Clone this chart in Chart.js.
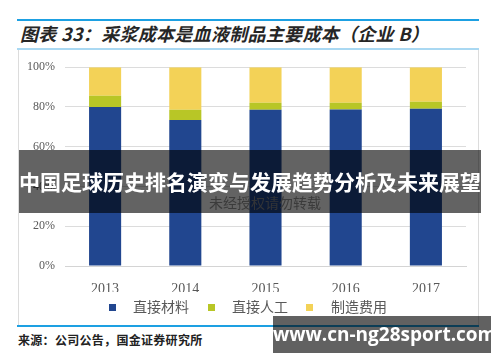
<!DOCTYPE html>
<html>
<head>
<meta charset="utf-8">
<script src="https://cdn.jsdelivr.net/npm/chart.js@4"></script>
<style>
  html, body { margin: 0; padding: 0; background: #fff; }
  body { width: 500px; height: 362px; position: relative; overflow: hidden; font-family: "Noto Sans CJK SC", sans-serif; }
  .abs { position: absolute; }
  #title { left: 20px; top: 21px; font-size: 18px; line-height: 24px; font-style: italic; font-weight: bold; color: #262626; white-space: nowrap; letter-spacing: 0.3px; }
  #frame { left: 18px; top: 50px; width: 459px; height: 275px; border-left: 1px solid #dcdcdc; border-right: 1px solid #dcdcdc; }
  #chartWrap { left: 19px; top: 50px; width: 459px; height: 275px; }
  #source { left: 18px; top: 331px; font-size: 12px; line-height: 18px; font-weight: bold; color: #222; white-space: nowrap; letter-spacing: 0.3px; }
  #mark { left: 0; top: 192px; width: 500px; text-align: center; font-size: 14px; color: rgba(140,140,140,0.9); padding-left: 30px; box-sizing: border-box; }
  #band { left: 19px; top: 150px; width: 462px; height: 63px; background: rgba(0,0,0,0.61); color: #fff; font-weight: bold; font-size: 21px; line-height: 63px; text-align: center; white-space: nowrap; }
  #site { left: 273px; top: 316px; width: 218px; height: 37px; background: rgba(0,0,0,0.62); color: #fff; font-family: "Open Sans", "Noto Sans", sans-serif; font-weight: bold; font-size: 19px; line-height: 37px; text-align: center; white-space: nowrap; }
</style>
</head>
<body>
<div class="abs" style="left:17px;top:19px;width:462px;height:2px;background:#1da0e2"></div>
<div class="abs" id="title">图表 33：采浆成本是血液制品主要成本（企业 B）</div>
<div class="abs" style="left:17px;top:48px;width:462px;height:2px;background:#a9d8f2"></div>
<div class="abs" id="frame"></div>
<div class="abs" id="chartWrap"><canvas id="costChart"></canvas></div>
<div class="abs" id="mark">未经授权请勿转载</div>
<div class="abs" style="left:17px;top:325px;width:462px;height:2px;background:#1da0e2"></div>
<div class="abs" id="source">来源：公司公告，国金证券研究所</div>
<div class="abs" id="band">中国足球历史排名演变与发展趋势分析及未来展望</div>
<div class="abs" id="site">www.cn-ng28sport.com</div>

<script>
// cost structure, share of total (%)
const years = ['2013', '2014', '2015', '2016', '2017'];
const directMaterial = [80.0, 73.5, 78.6, 78.7, 79.1];
const directLabor = [5.6, 5.1, 3.5, 3.4, 3.5];
const overhead = [14.4, 21.4, 17.9, 17.9, 17.4];
const seriesNames = ['直接材料', '直接人工', '制造费用'];
const yTicks = [0, 20, 40, 60, 80, 100];

const colors = ['#21468f', '#b8c626', '#f3d257'];

// small square used as legend marker, so the gap to the text can be set
function swatch(color){
  const c = document.createElement('canvas');
  c.width = 7; c.height = 7;
  const g = c.getContext('2d');
  g.fillStyle = color;
  g.fillRect(0, 0, 7, 7);
  return c;
}
const swatches = colors.map(swatch);

const ctx = document.getElementById('costChart');
new Chart(ctx, {
  type: 'bar',
  data: {
    labels: years,
    datasets: [
      { label: seriesNames[0], data: directMaterial, backgroundColor: colors[0] },
      { label: seriesNames[1], data: directLabor, backgroundColor: colors[1] },
      { label: seriesNames[2], data: overhead, backgroundColor: colors[2] }
    ]
  },
  options: {
    responsive: true,
    maintainAspectRatio: false,
    animation: false,
    devicePixelRatio: 1,
    layout: { padding: { top: 15, right: 12, bottom: 1, left: 0 } },
    datasets: { bar: { categoryPercentage: 0.8, barPercentage: 0.5 } },
    scales: {
      x: {
        stacked: true,
        grid: { display: false },
        border: { color: '#d4d4d4' },
        ticks: { color: '#595959', font: { family: 'Liberation Serif', size: 14 }, padding: 7 },
        afterFit(s){ s.height = 26; }
      },
      y: {
        stacked: true,
        min: 0,
        max: 100,
        border: { display: false },
        grid: { color: '#dcdcdc', drawTicks: false },
        ticks: { color: '#595959', font: { family: 'Liberation Serif', size: 12 }, padding: 10, callback: v => v + '%' },
        afterBuildTicks(s){ s.ticks = yTicks.map(v => ({ value: v })); },
        afterFit(s){ s.width = 46; }
      }
    },
    plugins: {
      tooltip: { enabled: false },
      legend: {
        position: 'bottom',
        labels: {
          usePointStyle: true,
          pointStyleWidth: 28,
          padding: 8,
          color: '#595959',
          font: { family: 'Noto Sans CJK SC', size: 14 },
          generateLabels(chart){
            const items = Chart.defaults.plugins.legend.labels.generateLabels(chart);
            items.forEach((it, i) => { it.pointStyle = swatches[i]; });
            return items;
          }
        }
      }
    }
  }
});
</script>
</body>
</html>
